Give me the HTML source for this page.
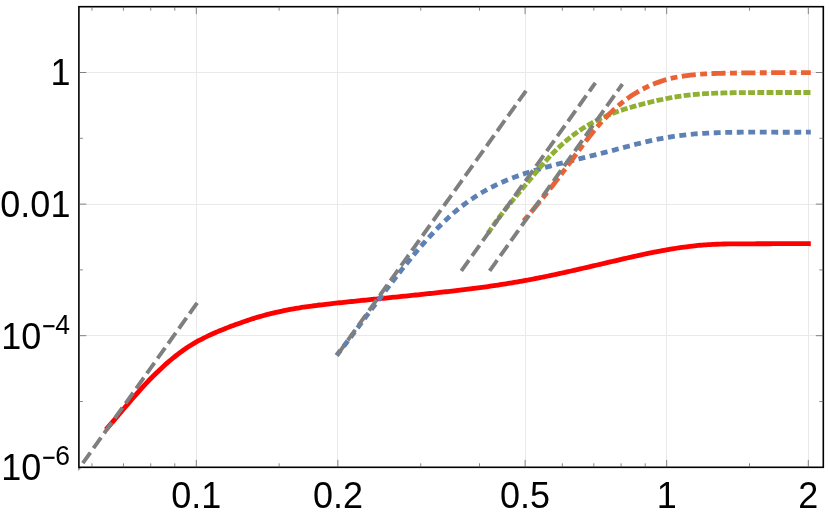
<!DOCTYPE html>
<html><head><meta charset="utf-8"><title>plot</title>
<style>
html,body{margin:0;padding:0;background:#fff;}
body{width:830px;height:517px;overflow:hidden;font-family:"Liberation Sans",sans-serif;}
svg{display:block}
text{font-family:"Liberation Sans",sans-serif;fill:#000}
</style></head><body>
<svg width="830" height="517" viewBox="0 0 830 517">
<rect width="830" height="517" fill="#fff"/>
<defs><clipPath id="c"><rect x="78.15" y="5.95" width="745.90" height="462.10"/></clipPath></defs>

<g stroke="#e9e9e9" stroke-width="1" fill="none">
<line x1="196.50" y1="6.70" x2="196.50" y2="467.30"/>
<line x1="337.50" y1="6.70" x2="337.50" y2="467.30"/>
<line x1="525.50" y1="6.70" x2="525.50" y2="467.30"/>
<line x1="666.50" y1="6.70" x2="666.50" y2="467.30"/>
<line x1="808.50" y1="6.70" x2="808.50" y2="467.30"/>
<line x1="78.90" y1="72.50" x2="823.30" y2="72.50"/>
<line x1="78.90" y1="204.50" x2="823.30" y2="204.50"/>
<line x1="78.90" y1="335.50" x2="823.30" y2="335.50"/>
</g>
<g fill="none" clip-path="url(#c)" stroke-linecap="square">
<path id="red" d="M107.50 427.82 C108.17 427.05 110.17 424.73 111.51 423.17 C112.84 421.62 114.18 420.05 115.51 418.49 C116.85 416.92 118.18 415.35 119.52 413.78 C120.85 412.21 122.19 410.64 123.52 409.07 C124.86 407.51 126.19 405.94 127.53 404.39 C128.86 402.84 130.20 401.28 131.53 399.75 C132.87 398.21 134.20 396.67 135.54 395.16 C136.87 393.64 138.21 392.14 139.54 390.65 C140.88 389.17 142.21 387.69 143.55 386.24 C144.88 384.79 146.22 383.36 147.55 381.95 C148.89 380.54 150.22 379.15 151.56 377.79 C152.89 376.43 154.23 375.09 155.56 373.77 C156.90 372.46 158.23 371.17 159.57 369.91 C160.90 368.64 162.24 367.40 163.57 366.19 C164.91 364.98 166.24 363.79 167.58 362.63 C168.91 361.47 170.25 360.34 171.58 359.23 C172.92 358.12 174.25 357.05 175.59 356.00 C176.92 354.95 178.26 353.93 179.59 352.93 C180.93 351.94 182.26 350.98 183.60 350.04 C184.93 349.11 186.27 348.21 187.60 347.33 C188.94 346.46 190.27 345.62 191.61 344.80 C192.94 343.98 194.28 343.19 195.61 342.43 C196.95 341.66 198.28 340.92 199.62 340.20 C200.95 339.48 202.29 338.79 203.62 338.11 C204.96 337.44 206.29 336.78 207.63 336.14 C208.96 335.51 210.30 334.89 211.63 334.28 C212.97 333.68 214.30 333.09 215.64 332.51 C216.97 331.94 218.31 331.38 219.64 330.82 C220.98 330.27 222.31 329.73 223.65 329.20 C224.98 328.67 226.32 328.14 227.65 327.62 C228.99 327.11 230.32 326.60 231.66 326.09 C232.99 325.59 234.33 325.09 235.66 324.60 C237.00 324.10 238.33 323.62 239.67 323.14 C241.00 322.67 242.34 322.20 243.67 321.73 C245.01 321.27 246.34 320.82 247.68 320.37 C249.02 319.93 250.35 319.49 251.69 319.07 C253.02 318.64 254.36 318.22 255.69 317.81 C257.03 317.40 258.36 317.00 259.70 316.62 C261.03 316.23 262.37 315.85 263.70 315.48 C265.04 315.11 266.37 314.75 267.71 314.41 C269.04 314.06 270.38 313.72 271.71 313.40 C273.05 313.07 274.38 312.75 275.72 312.44 C277.05 312.14 278.39 311.84 279.72 311.55 C281.06 311.26 282.39 310.98 283.73 310.71 C285.06 310.44 286.40 310.17 287.73 309.92 C289.07 309.66 290.40 309.41 291.74 309.17 C293.07 308.93 294.41 308.70 295.74 308.47 C297.08 308.24 298.41 308.02 299.75 307.81 C301.08 307.59 302.42 307.39 303.75 307.19 C305.09 306.98 306.42 306.79 307.76 306.60 C309.09 306.41 310.43 306.22 311.76 306.04 C313.10 305.86 314.43 305.68 315.77 305.51 C317.10 305.34 318.44 305.17 319.77 305.00 C321.11 304.84 322.44 304.68 323.78 304.52 C325.11 304.36 326.45 304.21 327.78 304.06 C329.12 303.90 330.45 303.75 331.79 303.61 C333.12 303.46 334.46 303.31 335.79 303.17 C337.13 303.03 338.46 302.89 339.80 302.74 C341.13 302.60 342.47 302.46 343.80 302.32 C345.14 302.18 346.47 302.04 347.81 301.91 C349.14 301.77 350.48 301.63 351.81 301.49 C353.15 301.35 354.48 301.22 355.82 301.08 C357.15 300.94 358.49 300.81 359.82 300.67 C361.16 300.54 362.49 300.40 363.83 300.26 C365.16 300.13 366.50 299.99 367.83 299.86 C369.17 299.72 370.50 299.59 371.84 299.45 C373.17 299.32 374.51 299.18 375.84 299.05 C377.18 298.92 378.51 298.78 379.85 298.65 C381.18 298.51 382.52 298.38 383.85 298.24 C385.19 298.11 386.52 297.98 387.86 297.84 C389.20 297.71 390.53 297.57 391.87 297.44 C393.20 297.30 394.54 297.17 395.87 297.03 C397.21 296.90 398.54 296.76 399.88 296.63 C401.21 296.49 402.55 296.36 403.88 296.22 C405.22 296.09 406.55 295.95 407.89 295.81 C409.22 295.68 410.56 295.54 411.89 295.40 C413.23 295.26 414.56 295.13 415.90 294.99 C417.23 294.85 418.57 294.71 419.90 294.57 C421.24 294.43 422.57 294.29 423.91 294.15 C425.24 294.01 426.58 293.87 427.91 293.73 C429.25 293.58 430.58 293.44 431.92 293.30 C433.25 293.15 434.59 293.01 435.92 292.86 C437.26 292.72 438.59 292.57 439.93 292.43 C441.26 292.28 442.60 292.13 443.93 291.98 C445.27 291.83 446.60 291.68 447.94 291.53 C449.27 291.38 450.61 291.23 451.94 291.08 C453.28 290.92 454.61 290.77 455.95 290.61 C457.28 290.45 458.62 290.30 459.95 290.14 C461.29 289.98 462.62 289.81 463.96 289.65 C465.29 289.49 466.63 289.32 467.96 289.16 C469.30 288.99 470.63 288.82 471.97 288.65 C473.30 288.48 474.64 288.31 475.97 288.14 C477.31 287.96 478.64 287.78 479.98 287.61 C481.31 287.43 482.65 287.25 483.98 287.06 C485.32 286.88 486.65 286.69 487.99 286.51 C489.32 286.32 490.66 286.13 491.99 285.93 C493.33 285.74 494.66 285.54 496.00 285.35 C497.33 285.15 498.67 284.95 500.00 284.74 C501.34 284.54 502.67 284.33 504.01 284.12 C505.34 283.91 506.68 283.70 508.01 283.48 C509.35 283.27 510.68 283.05 512.02 282.83 C513.35 282.60 514.69 282.38 516.02 282.15 C517.36 281.92 518.69 281.69 520.03 281.45 C521.36 281.22 522.70 280.98 524.03 280.73 C525.37 280.49 526.70 280.25 528.04 280.00 C529.38 279.75 530.71 279.49 532.05 279.24 C533.38 278.98 534.72 278.72 536.05 278.46 C537.39 278.20 538.72 277.93 540.06 277.66 C541.39 277.39 542.73 277.12 544.06 276.85 C545.40 276.58 546.73 276.30 548.07 276.02 C549.40 275.74 550.74 275.46 552.07 275.18 C553.41 274.89 554.74 274.61 556.08 274.32 C557.41 274.03 558.75 273.74 560.08 273.45 C561.42 273.16 562.75 272.86 564.09 272.57 C565.42 272.27 566.76 271.98 568.09 271.68 C569.43 271.38 570.76 271.08 572.10 270.78 C573.43 270.47 574.77 270.17 576.10 269.87 C577.44 269.56 578.77 269.26 580.11 268.95 C581.44 268.64 582.78 268.33 584.11 268.03 C585.45 267.72 586.78 267.41 588.12 267.10 C589.45 266.79 590.79 266.48 592.12 266.17 C593.46 265.86 594.79 265.54 596.13 265.23 C597.46 264.92 598.80 264.61 600.13 264.30 C601.47 263.98 602.80 263.67 604.14 263.36 C605.47 263.05 606.81 262.73 608.14 262.42 C609.48 262.11 610.81 261.80 612.15 261.49 C613.48 261.17 614.82 260.86 616.15 260.55 C617.49 260.24 618.82 259.93 620.16 259.62 C621.49 259.31 622.83 259.01 624.16 258.70 C625.50 258.39 626.83 258.09 628.17 257.78 C629.50 257.48 630.84 257.18 632.17 256.88 C633.51 256.58 634.84 256.28 636.18 255.99 C637.51 255.69 638.85 255.40 640.18 255.11 C641.52 254.82 642.85 254.53 644.19 254.25 C645.52 253.96 646.86 253.68 648.19 253.41 C649.53 253.13 650.86 252.86 652.20 252.59 C653.53 252.32 654.87 252.05 656.20 251.79 C657.54 251.53 658.87 251.27 660.21 251.02 C661.54 250.77 662.88 250.52 664.21 250.28 C665.55 250.04 666.88 249.80 668.22 249.57 C669.56 249.34 670.89 249.11 672.23 248.89 C673.56 248.67 674.90 248.46 676.23 248.25 C677.57 248.04 678.90 247.84 680.24 247.65 C681.57 247.45 682.91 247.26 684.24 247.08 C685.58 246.90 686.91 246.72 688.25 246.56 C689.58 246.39 690.92 246.23 692.25 246.08 C693.59 245.93 694.92 245.78 696.26 245.65 C697.59 245.51 698.93 245.38 700.26 245.26 C701.60 245.15 702.93 245.03 704.27 244.93 C705.60 244.83 706.94 244.74 708.27 244.65 C709.61 244.57 710.94 244.49 712.28 244.42 C713.61 244.36 714.95 244.29 716.28 244.24 C717.62 244.18 718.95 244.14 720.29 244.10 C721.62 244.05 722.96 244.02 724.29 243.99 C725.63 243.95 726.96 243.93 728.30 243.91 C729.63 243.88 730.97 243.87 732.30 243.85 C733.64 243.84 734.97 243.83 736.31 243.82 C737.64 243.81 738.98 243.80 740.31 243.80 C741.65 243.79 742.98 243.79 744.32 243.79 C745.65 243.79 746.99 243.79 748.32 243.79 C749.66 243.78 750.99 243.78 752.33 243.78 C753.66 243.78 755.00 243.78 756.33 243.77 C757.67 243.77 759.00 243.77 760.34 243.76 C761.67 243.76 763.01 243.76 764.34 243.75 C765.68 243.75 767.01 243.74 768.35 243.74 C769.68 243.73 771.02 243.72 772.35 243.72 C773.69 243.71 775.02 243.71 776.36 243.70 C777.69 243.70 779.03 243.69 780.36 243.69 C781.70 243.69 783.03 243.68 784.37 243.68 C785.70 243.67 787.04 243.67 788.37 243.67 C789.71 243.67 791.04 243.67 792.38 243.67 C793.71 243.67 795.05 243.67 796.38 243.67 C797.72 243.67 799.05 243.67 800.39 243.68 C801.72 243.68 803.06 243.69 804.39 243.70 C805.73 243.70 807.73 243.72 808.40 243.72" stroke="#ff0000" stroke-width="4.8" stroke-linejoin="round"/>
<path id="blue" d="M338.10 353.59 C338.76 352.73 340.76 350.16 342.09 348.43 C343.41 346.70 344.74 344.96 346.07 343.21 C347.40 341.47 348.73 339.72 350.06 337.96 C351.39 336.20 352.71 334.44 354.04 332.67 C355.37 330.90 356.70 329.13 358.03 327.36 C359.36 325.58 360.69 323.80 362.01 322.02 C363.34 320.25 364.67 318.46 366.00 316.68 C367.33 314.90 368.66 313.12 369.98 311.34 C371.31 309.56 372.64 307.78 373.97 306.00 C375.30 304.23 376.63 302.45 377.96 300.68 C379.28 298.91 380.61 297.14 381.94 295.38 C383.27 293.62 384.60 291.86 385.93 290.11 C387.26 288.36 388.58 286.62 389.91 284.88 C391.24 283.15 392.57 281.42 393.90 279.70 C395.23 277.98 396.56 276.27 397.88 274.57 C399.21 272.87 400.54 271.18 401.87 269.50 C403.20 267.82 404.53 266.15 405.86 264.50 C407.18 262.85 408.51 261.21 409.84 259.58 C411.17 257.95 412.50 256.34 413.83 254.75 C415.15 253.15 416.48 251.57 417.81 250.01 C419.14 248.44 420.47 246.90 421.80 245.37 C423.13 243.84 424.45 242.33 425.78 240.84 C427.11 239.35 428.44 237.88 429.77 236.43 C431.10 234.98 432.43 233.55 433.75 232.15 C435.08 230.74 436.41 229.36 437.74 228.00 C439.07 226.64 440.40 225.30 441.73 223.99 C443.05 222.68 444.38 221.39 445.71 220.13 C447.04 218.87 448.37 217.64 449.70 216.43 C451.03 215.22 452.35 214.04 453.68 212.90 C455.01 211.75 456.34 210.63 457.67 209.53 C459.00 208.44 460.32 207.38 461.65 206.34 C462.98 205.31 464.31 204.30 465.64 203.32 C466.97 202.34 468.30 201.39 469.62 200.46 C470.95 199.53 472.28 198.62 473.61 197.74 C474.94 196.86 476.27 196.01 477.60 195.18 C478.92 194.34 480.25 193.53 481.58 192.75 C482.91 191.96 484.24 191.20 485.57 190.45 C486.90 189.71 488.22 188.98 489.55 188.28 C490.88 187.58 492.21 186.89 493.54 186.23 C494.87 185.56 496.20 184.92 497.52 184.29 C498.85 183.66 500.18 183.05 501.51 182.46 C502.84 181.86 504.17 181.29 505.49 180.73 C506.82 180.16 508.15 179.62 509.48 179.09 C510.81 178.55 512.14 178.04 513.47 177.53 C514.79 177.03 516.12 176.54 517.45 176.06 C518.78 175.58 520.11 175.11 521.44 174.65 C522.77 174.20 524.09 173.75 525.42 173.32 C526.75 172.88 528.08 172.46 529.41 172.04 C530.74 171.63 532.07 171.22 533.39 170.82 C534.72 170.42 536.05 170.03 537.38 169.64 C538.71 169.26 540.04 168.88 541.37 168.51 C542.69 168.13 544.02 167.77 545.35 167.40 C546.68 167.04 548.01 166.68 549.34 166.33 C550.66 165.97 551.99 165.62 553.32 165.28 C554.65 164.93 555.98 164.58 557.31 164.24 C558.64 163.90 559.96 163.57 561.29 163.23 C562.62 162.89 563.95 162.56 565.28 162.23 C566.61 161.90 567.94 161.57 569.26 161.24 C570.59 160.92 571.92 160.59 573.25 160.26 C574.58 159.94 575.91 159.61 577.24 159.29 C578.56 158.96 579.89 158.64 581.22 158.32 C582.55 157.99 583.88 157.67 585.21 157.34 C586.54 157.02 587.86 156.69 589.19 156.37 C590.52 156.04 591.85 155.71 593.18 155.38 C594.51 155.05 595.84 154.72 597.16 154.39 C598.49 154.05 599.82 153.72 601.15 153.38 C602.48 153.04 603.81 152.70 605.13 152.35 C606.46 152.01 607.79 151.66 609.12 151.31 C610.45 150.96 611.78 150.61 613.11 150.26 C614.43 149.91 615.76 149.55 617.09 149.20 C618.42 148.85 619.75 148.49 621.08 148.14 C622.41 147.78 623.73 147.43 625.06 147.08 C626.39 146.73 627.72 146.38 629.05 146.03 C630.38 145.68 631.71 145.34 633.03 145.00 C634.36 144.65 635.69 144.31 637.02 143.98 C638.35 143.65 639.68 143.31 641.01 142.99 C642.33 142.66 643.66 142.34 644.99 142.02 C646.32 141.71 647.65 141.40 648.98 141.09 C650.30 140.79 651.63 140.49 652.96 140.20 C654.29 139.91 655.62 139.63 656.95 139.35 C658.28 139.08 659.60 138.81 660.93 138.56 C662.26 138.30 663.59 138.05 664.92 137.81 C666.25 137.57 667.58 137.34 668.90 137.12 C670.23 136.91 671.56 136.70 672.89 136.50 C674.22 136.30 675.55 136.11 676.88 135.93 C678.20 135.75 679.53 135.58 680.86 135.41 C682.19 135.25 683.52 135.09 684.85 134.95 C686.18 134.80 687.50 134.66 688.83 134.53 C690.16 134.40 691.49 134.28 692.82 134.16 C694.15 134.04 695.47 133.93 696.80 133.83 C698.13 133.73 699.46 133.63 700.79 133.54 C702.12 133.45 703.45 133.37 704.77 133.29 C706.10 133.21 707.43 133.14 708.76 133.07 C710.09 133.01 711.42 132.94 712.75 132.89 C714.07 132.83 715.40 132.78 716.73 132.73 C718.06 132.68 719.39 132.64 720.72 132.60 C722.05 132.56 723.37 132.52 724.70 132.49 C726.03 132.45 727.36 132.42 728.69 132.40 C730.02 132.37 731.35 132.35 732.67 132.32 C734.00 132.30 735.33 132.28 736.66 132.27 C737.99 132.25 739.32 132.24 740.64 132.23 C741.97 132.21 743.30 132.20 744.63 132.20 C745.96 132.19 747.29 132.18 748.62 132.18 C749.94 132.17 751.27 132.17 752.60 132.17 C753.93 132.17 755.26 132.17 756.59 132.17 C757.92 132.17 759.24 132.17 760.57 132.17 C761.90 132.18 763.23 132.18 764.56 132.18 C765.89 132.19 767.22 132.19 768.54 132.20 C769.87 132.20 771.20 132.21 772.53 132.21 C773.86 132.22 775.19 132.22 776.52 132.23 C777.84 132.23 779.17 132.23 780.50 132.24 C781.83 132.24 783.16 132.25 784.49 132.25 C785.81 132.25 787.14 132.25 788.47 132.25 C789.80 132.25 791.13 132.25 792.46 132.25 C793.79 132.25 795.11 132.25 796.44 132.24 C797.77 132.24 799.10 132.23 800.43 132.22 C801.76 132.21 803.09 132.20 804.41 132.19 C805.74 132.18 807.74 132.16 808.40 132.15" stroke="#5e81b5" stroke-width="4.8" stroke-dasharray="2.10 9.41" stroke-dashoffset="0.00"/>
<path id="green" d="M489.30 231.32 C489.96 230.35 491.96 227.40 493.29 225.50 C494.62 223.61 495.95 221.76 497.28 219.95 C498.61 218.14 499.94 216.37 501.27 214.62 C502.60 212.88 503.93 211.17 505.25 209.48 C506.58 207.79 507.91 206.13 509.24 204.49 C510.57 202.84 511.90 201.22 513.23 199.61 C514.56 197.99 515.89 196.40 517.22 194.80 C518.55 193.21 519.88 191.62 521.21 190.03 C522.54 188.44 523.87 186.86 525.20 185.26 C526.53 183.67 527.86 182.07 529.19 180.47 C530.52 178.87 531.85 177.27 533.18 175.68 C534.51 174.09 535.84 172.50 537.16 170.93 C538.49 169.36 539.82 167.79 541.15 166.25 C542.48 164.71 543.81 163.18 545.14 161.69 C546.47 160.19 547.80 158.71 549.13 157.27 C550.46 155.83 551.79 154.41 553.12 153.04 C554.45 151.67 555.78 150.33 557.11 149.03 C558.44 147.74 559.77 146.48 561.10 145.26 C562.43 144.04 563.76 142.86 565.09 141.71 C566.42 140.56 567.75 139.45 569.08 138.38 C570.40 137.30 571.73 136.26 573.06 135.25 C574.39 134.24 575.72 133.26 577.05 132.32 C578.38 131.37 579.71 130.46 581.04 129.58 C582.37 128.69 583.70 127.84 585.03 127.01 C586.36 126.18 587.69 125.39 589.02 124.62 C590.35 123.84 591.68 123.10 593.01 122.38 C594.34 121.66 595.67 120.96 597.00 120.29 C598.33 119.62 599.66 118.97 600.99 118.34 C602.31 117.72 603.64 117.11 604.97 116.53 C606.30 115.94 607.63 115.38 608.96 114.83 C610.29 114.29 611.62 113.76 612.95 113.25 C614.28 112.74 615.61 112.25 616.94 111.77 C618.27 111.29 619.60 110.83 620.93 110.38 C622.26 109.93 623.59 109.50 624.92 109.08 C626.25 108.65 627.58 108.25 628.91 107.85 C630.24 107.45 631.57 107.06 632.89 106.68 C634.22 106.30 635.55 105.93 636.88 105.57 C638.21 105.21 639.54 104.85 640.87 104.50 C642.20 104.16 643.53 103.81 644.86 103.48 C646.19 103.14 647.52 102.81 648.85 102.48 C650.18 102.16 651.51 101.84 652.84 101.53 C654.17 101.22 655.50 100.91 656.83 100.61 C658.16 100.32 659.49 100.03 660.82 99.74 C662.15 99.46 663.48 99.19 664.81 98.92 C666.13 98.65 667.46 98.39 668.79 98.14 C670.12 97.89 671.45 97.65 672.78 97.42 C674.11 97.19 675.44 96.96 676.77 96.75 C678.10 96.53 679.43 96.33 680.76 96.13 C682.09 95.94 683.42 95.75 684.75 95.58 C686.08 95.41 687.41 95.24 688.74 95.09 C690.07 94.93 691.40 94.79 692.73 94.66 C694.06 94.53 695.39 94.41 696.71 94.29 C698.04 94.18 699.37 94.08 700.70 93.98 C702.03 93.88 703.36 93.80 704.69 93.72 C706.02 93.64 707.35 93.56 708.68 93.50 C710.01 93.43 711.34 93.37 712.67 93.31 C714.00 93.26 715.33 93.21 716.66 93.16 C717.99 93.11 719.32 93.07 720.65 93.03 C721.98 92.99 723.31 92.95 724.64 92.92 C725.97 92.88 727.30 92.85 728.62 92.82 C729.95 92.80 731.28 92.77 732.61 92.75 C733.94 92.72 735.27 92.70 736.60 92.68 C737.93 92.66 739.26 92.64 740.59 92.63 C741.92 92.61 743.25 92.60 744.58 92.59 C745.91 92.58 747.24 92.57 748.57 92.56 C749.90 92.55 751.23 92.54 752.56 92.53 C753.89 92.53 755.22 92.52 756.55 92.52 C757.88 92.51 759.21 92.51 760.53 92.50 C761.86 92.50 763.19 92.50 764.52 92.50 C765.85 92.50 767.18 92.49 768.51 92.49 C769.84 92.49 771.17 92.49 772.50 92.49 C773.83 92.49 775.16 92.49 776.49 92.49 C777.82 92.49 779.15 92.49 780.48 92.49 C781.81 92.49 783.14 92.50 784.47 92.50 C785.80 92.50 787.13 92.50 788.46 92.50 C789.79 92.50 791.12 92.50 792.44 92.50 C793.77 92.50 795.10 92.50 796.43 92.50 C797.76 92.50 799.09 92.51 800.42 92.50 C801.75 92.50 803.08 92.50 804.41 92.50 C805.74 92.50 807.74 92.50 808.40 92.50" stroke="#8fb032" stroke-width="4.8" stroke-dasharray="2.10 7.12" stroke-dashoffset="0.00"/>
<path id="orange" d="M525.20 219.06 C525.86 218.27 527.86 215.94 529.19 214.36 C530.52 212.79 531.85 211.21 533.18 209.61 C534.51 208.02 535.84 206.42 537.17 204.81 C538.50 203.19 539.83 201.57 541.15 199.93 C542.48 198.30 543.81 196.65 545.14 195.00 C546.47 193.34 547.80 191.67 549.13 189.99 C550.46 188.30 551.79 186.61 553.12 184.90 C554.45 183.19 555.78 181.47 557.11 179.74 C558.44 178.00 559.77 176.26 561.10 174.49 C562.43 172.73 563.76 170.95 565.09 169.16 C566.42 167.37 567.75 165.56 569.08 163.76 C570.41 161.95 571.74 160.13 573.06 158.32 C574.39 156.51 575.72 154.69 577.05 152.89 C578.38 151.09 579.71 149.28 581.04 147.50 C582.37 145.72 583.70 143.95 585.03 142.20 C586.36 140.45 587.69 138.72 589.02 137.02 C590.35 135.32 591.68 133.64 593.01 132.00 C594.34 130.36 595.67 128.75 597.00 127.19 C598.33 125.62 599.66 124.10 600.99 122.61 C602.32 121.13 603.65 119.70 604.97 118.30 C606.30 116.90 607.63 115.55 608.96 114.24 C610.29 112.93 611.62 111.66 612.95 110.43 C614.28 109.20 615.61 108.01 616.94 106.86 C618.27 105.70 619.60 104.59 620.93 103.52 C622.26 102.44 623.59 101.40 624.92 100.40 C626.25 99.40 627.58 98.44 628.91 97.51 C630.24 96.58 631.57 95.69 632.90 94.83 C634.23 93.97 635.55 93.14 636.88 92.35 C638.21 91.55 639.54 90.79 640.87 90.06 C642.20 89.34 643.53 88.64 644.86 87.97 C646.19 87.31 647.52 86.67 648.85 86.06 C650.18 85.46 651.51 84.88 652.84 84.33 C654.17 83.78 655.50 83.26 656.83 82.76 C658.16 82.27 659.49 81.80 660.82 81.36 C662.15 80.92 663.48 80.50 664.81 80.11 C666.14 79.71 667.46 79.35 668.79 79.00 C670.12 78.65 671.45 78.33 672.78 78.02 C674.11 77.72 675.44 77.44 676.77 77.18 C678.10 76.91 679.43 76.67 680.76 76.44 C682.09 76.21 683.42 76.01 684.75 75.81 C686.08 75.62 687.41 75.44 688.74 75.28 C690.07 75.12 691.40 74.97 692.73 74.83 C694.06 74.70 695.39 74.58 696.72 74.46 C698.05 74.35 699.37 74.25 700.70 74.16 C702.03 74.07 703.36 73.99 704.69 73.92 C706.02 73.84 707.35 73.78 708.68 73.72 C710.01 73.66 711.34 73.61 712.67 73.56 C714.00 73.52 715.33 73.47 716.66 73.43 C717.99 73.40 719.32 73.36 720.65 73.33 C721.98 73.29 723.31 73.26 724.64 73.23 C725.97 73.20 727.30 73.17 728.63 73.14 C729.95 73.12 731.28 73.09 732.61 73.07 C733.94 73.04 735.27 73.02 736.60 73.00 C737.93 72.98 739.26 72.96 740.59 72.94 C741.92 72.93 743.25 72.91 744.58 72.89 C745.91 72.88 747.24 72.86 748.57 72.85 C749.90 72.84 751.23 72.83 752.56 72.82 C753.89 72.80 755.22 72.79 756.55 72.79 C757.88 72.78 759.21 72.77 760.54 72.76 C761.86 72.75 763.19 72.75 764.52 72.74 C765.85 72.73 767.18 72.73 768.51 72.72 C769.84 72.72 771.17 72.71 772.50 72.71 C773.83 72.70 775.16 72.70 776.49 72.70 C777.82 72.69 779.15 72.69 780.48 72.69 C781.81 72.68 783.14 72.68 784.47 72.68 C785.80 72.67 787.13 72.67 788.46 72.67 C789.79 72.66 791.12 72.66 792.45 72.66 C793.77 72.65 795.10 72.65 796.43 72.65 C797.76 72.64 799.09 72.64 800.42 72.63 C801.75 72.63 803.08 72.62 804.41 72.62 C805.74 72.61 807.74 72.60 808.40 72.60" stroke="#eb6235" stroke-width="4.8" stroke-dasharray="2.10 9.22 9.30 9.22" stroke-dashoffset="0.00"/>
<g stroke="#7f7f7f" stroke-width="3.9" stroke-dasharray="9.2 9.18">
<line x1="83.93" y1="461.61" x2="196.07" y2="304.49"/>
<line x1="338.13" y1="353.81" x2="524.87" y2="92.39"/>
<line x1="462.43" y1="269.31" x2="594.27" y2="84.49"/>
<line x1="490.73" y1="269.31" x2="621.27" y2="85.69"/>
</g></g>
<path d="M78.2 468 L81 468 L78.2 471 Z" fill="#8a8a8a"/>
<g stroke="#000" fill="none">
<rect x="78.90" y="6.70" width="744.40" height="460.60" stroke-width="1.6"/>
<g stroke-width="0.7" stroke="#555">
<line x1="196.30" y1="467.30" x2="196.30" y2="459.90"/>
<line x1="196.30" y1="6.70" x2="196.30" y2="14.10"/>
<line x1="337.90" y1="467.30" x2="337.90" y2="459.90"/>
<line x1="337.90" y1="6.70" x2="337.90" y2="14.10"/>
<line x1="525.10" y1="467.30" x2="525.10" y2="459.90"/>
<line x1="525.10" y1="6.70" x2="525.10" y2="14.10"/>
<line x1="666.70" y1="467.30" x2="666.70" y2="459.90"/>
<line x1="666.70" y1="6.70" x2="666.70" y2="14.10"/>
<line x1="808.30" y1="467.30" x2="808.30" y2="459.90"/>
<line x1="808.30" y1="6.70" x2="808.30" y2="14.10"/>
<line x1="91.94" y1="467.30" x2="91.94" y2="463.30"/>
<line x1="91.94" y1="6.70" x2="91.94" y2="10.70"/>
<line x1="123.43" y1="467.30" x2="123.43" y2="463.30"/>
<line x1="123.43" y1="6.70" x2="123.43" y2="10.70"/>
<line x1="150.71" y1="467.30" x2="150.71" y2="463.30"/>
<line x1="150.71" y1="6.70" x2="150.71" y2="10.70"/>
<line x1="174.78" y1="467.30" x2="174.78" y2="463.30"/>
<line x1="174.78" y1="6.70" x2="174.78" y2="10.70"/>
<line x1="279.13" y1="467.30" x2="279.13" y2="463.30"/>
<line x1="279.13" y1="6.70" x2="279.13" y2="10.70"/>
<line x1="420.74" y1="467.30" x2="420.74" y2="463.30"/>
<line x1="420.74" y1="6.70" x2="420.74" y2="10.70"/>
<line x1="479.51" y1="467.30" x2="479.51" y2="463.30"/>
<line x1="479.51" y1="6.70" x2="479.51" y2="10.70"/>
<line x1="562.34" y1="467.30" x2="562.34" y2="463.30"/>
<line x1="562.34" y1="6.70" x2="562.34" y2="10.70"/>
<line x1="593.83" y1="467.30" x2="593.83" y2="463.30"/>
<line x1="593.83" y1="6.70" x2="593.83" y2="10.70"/>
<line x1="621.11" y1="467.30" x2="621.11" y2="463.30"/>
<line x1="621.11" y1="6.70" x2="621.11" y2="10.70"/>
<line x1="645.18" y1="467.30" x2="645.18" y2="463.30"/>
<line x1="645.18" y1="6.70" x2="645.18" y2="10.70"/>
<line x1="749.53" y1="467.30" x2="749.53" y2="463.30"/>
<line x1="749.53" y1="6.70" x2="749.53" y2="10.70"/>
<line x1="78.90" y1="72.50" x2="86.30" y2="72.50"/>
<line x1="823.30" y1="72.50" x2="815.90" y2="72.50"/>
<line x1="78.90" y1="204.10" x2="86.30" y2="204.10"/>
<line x1="823.30" y1="204.10" x2="815.90" y2="204.10"/>
<line x1="78.90" y1="335.70" x2="86.30" y2="335.70"/>
<line x1="823.30" y1="335.70" x2="815.90" y2="335.70"/>
<line x1="78.90" y1="138.30" x2="82.90" y2="138.30"/>
<line x1="823.30" y1="138.30" x2="819.30" y2="138.30"/>
<line x1="78.90" y1="269.90" x2="82.90" y2="269.90"/>
<line x1="823.30" y1="269.90" x2="819.30" y2="269.90"/>
<line x1="78.90" y1="401.50" x2="82.90" y2="401.50"/>
<line x1="823.30" y1="401.50" x2="819.30" y2="401.50"/>
</g></g>
<g style="will-change:transform">
<text transform="translate(196.30 507.70) scale(1 1.040)" font-size="36" text-anchor="middle">0.1</text>
<text transform="translate(337.90 507.70) scale(1 1.040)" font-size="36" text-anchor="middle">0.2</text>
<text transform="translate(525.10 507.70) scale(1 1.040)" font-size="36" text-anchor="middle">0.5</text>
<text transform="translate(666.70 507.70) scale(1 1.040)" font-size="36" text-anchor="middle">1</text>
<text transform="translate(808.30 507.70) scale(1 1.040)" font-size="36" text-anchor="middle">2</text>
<text transform="translate(70.40 85.30) scale(1 1.040)" font-size="36" text-anchor="end">1</text>
<text transform="translate(70.40 216.90) scale(1 1.040)" font-size="36" text-anchor="end">0.01</text>
<text transform="translate(41.30 348.50) scale(1 1.040)" font-size="36" text-anchor="end">10</text>
<rect x="43.2" y="325.10" width="11.3" height="2.2" fill="#000"/>
<text transform="translate(55.30 333.80) scale(1 1.040)" font-size="26.5" text-anchor="start">4</text>
<text transform="translate(41.30 480.10) scale(1 1.040)" font-size="36" text-anchor="end">10</text>
<rect x="43.2" y="456.70" width="11.3" height="2.2" fill="#000"/>
<text transform="translate(55.30 465.40) scale(1 1.040)" font-size="26.5" text-anchor="start">6</text>
</g>
</svg></body></html>
